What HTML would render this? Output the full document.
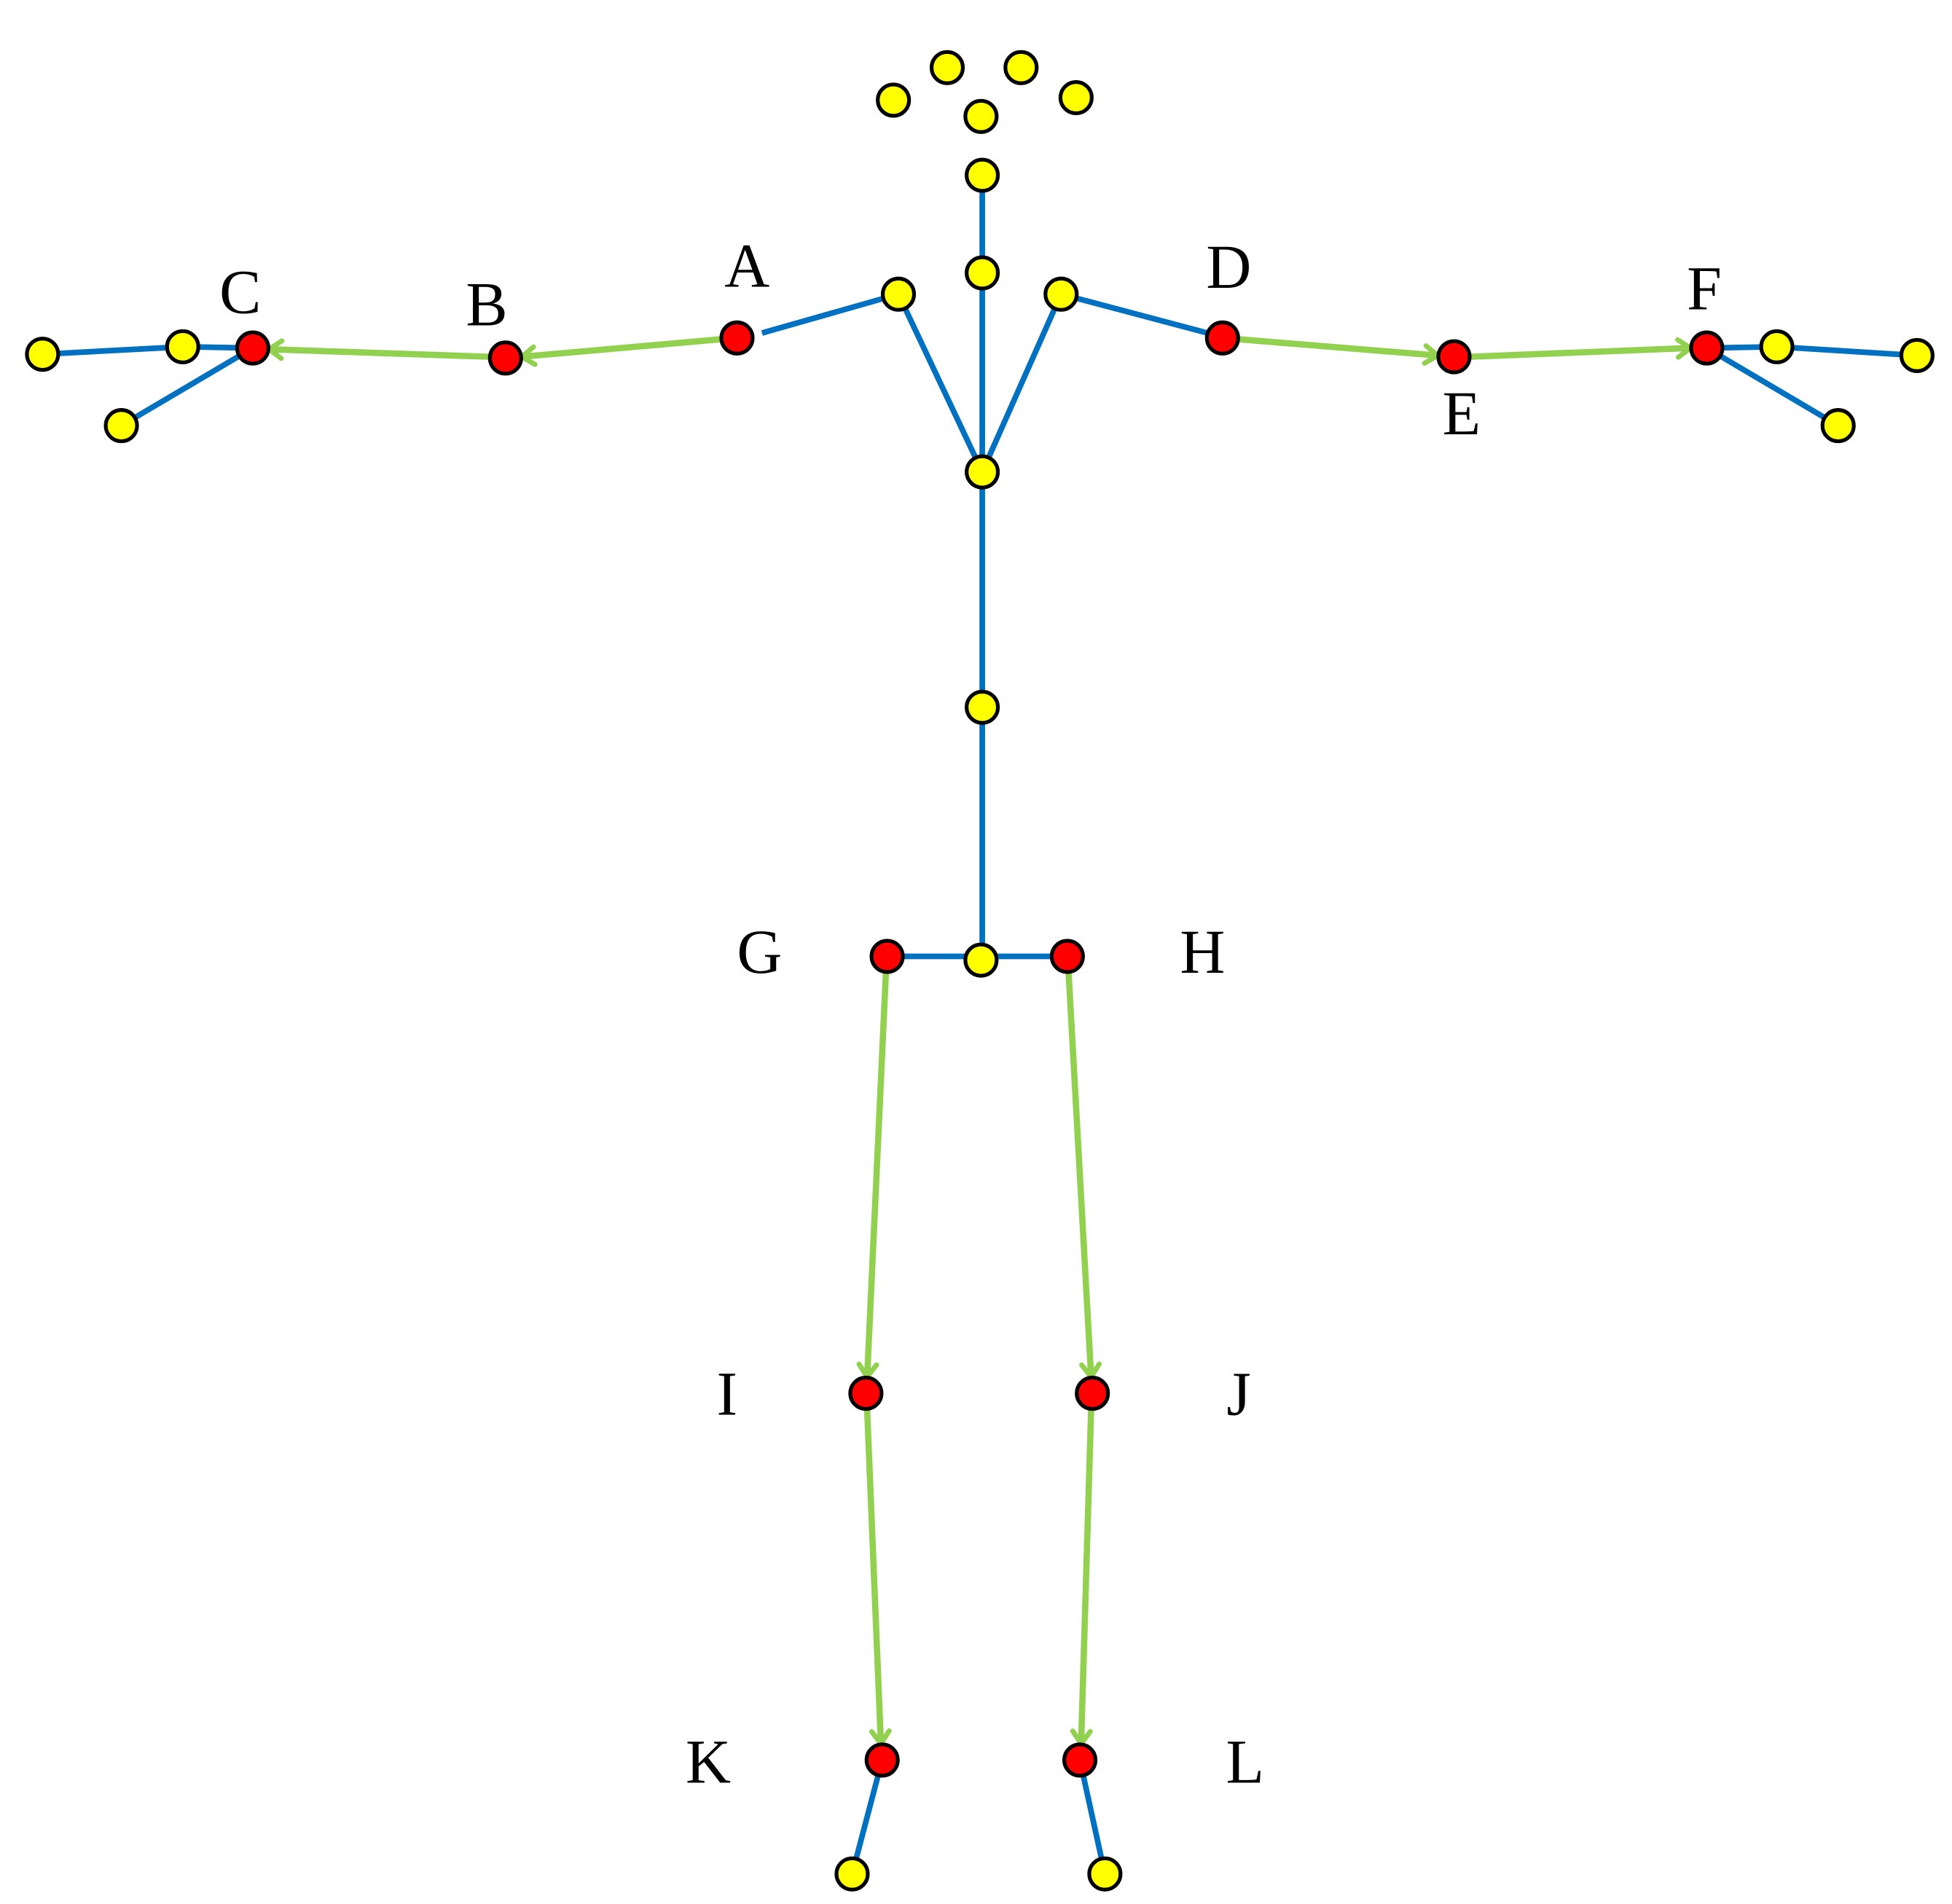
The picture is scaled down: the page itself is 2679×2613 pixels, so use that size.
<!DOCTYPE html>
<html><head><meta charset="utf-8">
<style>
html,body{margin:0;padding:0;background:#fff;}
svg{display:block;}
text{font-family:"Liberation Serif",serif;font-size:50px;fill:#000;}
</style></head>
<body>
<svg width="2679" height="2613" viewBox="0 0 1560 1521" preserveAspectRatio="none" xmlns="http://www.w3.org/2000/svg">
<defs>
<marker id="ar" markerUnits="userSpaceOnUse" markerWidth="30" markerHeight="30" refX="0" refY="0" orient="auto" viewBox="-15 -15 30 30" overflow="visible">
<path d="M-10,-7 L0,0 L-10,7" fill="none" stroke="#92D050" stroke-width="4" stroke-linecap="round" stroke-linejoin="round"/>
</marker>
</defs>
<g stroke="#0070C0" stroke-width="4.5" fill="none" stroke-linecap="butt">
<line x1="785" y1="140" x2="785" y2="767"/>
<line x1="718" y1="235" x2="785" y2="377"/>
<line x1="848" y1="235" x2="785" y2="377"/>
<line x1="609" y1="266" x2="718" y2="235"/>
<line x1="848" y1="235" x2="965" y2="266"/>
<line x1="709" y1="764" x2="853" y2="764"/>
<line x1="202" y1="278" x2="146" y2="277"/>
<line x1="146" y1="277" x2="34" y2="283"/>
<line x1="202" y1="278" x2="97" y2="340"/>
<line x1="1364" y1="278" x2="1420" y2="277"/>
<line x1="1420" y1="277" x2="1532" y2="284"/>
<line x1="1364" y1="278" x2="1469" y2="340"/>
<line x1="705" y1="1406" x2="681" y2="1497"/>
<line x1="863" y1="1406" x2="883" y2="1497"/>
</g>
<g stroke="#92D050" stroke-width="5" fill="none" marker-end="url(#ar)">
<line x1="576" y1="271" x2="417" y2="285"/>
<line x1="391" y1="285" x2="215" y2="279"/>
<line x1="990" y1="271" x2="1149" y2="284"/>
<line x1="1175" y1="285" x2="1351" y2="278"/>
<line x1="708" y1="777" x2="693" y2="1100"/>
<line x1="693" y1="1126" x2="704" y2="1393"/>
<line x1="854" y1="777" x2="872" y2="1100"/>
<line x1="872" y1="1126" x2="864" y2="1393"/>
</g>
<g stroke="#000" stroke-width="3" fill="#FFFF00">
<circle cx="714" cy="80" r="12.5"/>
<circle cx="757" cy="54" r="12.5"/>
<circle cx="816" cy="54" r="12.5"/>
<circle cx="860" cy="78" r="12.5"/>
<circle cx="784" cy="93" r="12.5"/>
<circle cx="785" cy="140" r="12.5"/>
<circle cx="785" cy="218" r="12.5"/>
<circle cx="718" cy="235" r="12.5"/>
<circle cx="848" cy="235" r="12.5"/>
<circle cx="785" cy="377" r="12.5"/>
<circle cx="785" cy="565" r="12.5"/>
<circle cx="784" cy="767" r="12.5"/>
<circle cx="146" cy="277" r="12.5"/>
<circle cx="34" cy="283" r="12.5"/>
<circle cx="97" cy="340" r="12.5"/>
<circle cx="1420" cy="277" r="12.5"/>
<circle cx="1532" cy="284" r="12.5"/>
<circle cx="1469" cy="340" r="12.5"/>
<circle cx="681" cy="1497" r="12.5"/>
<circle cx="883" cy="1497" r="12.5"/>
</g>
<g stroke="#000" stroke-width="3" fill="#FF0000">
<circle cx="589" cy="270" r="12.5"/>
<circle cx="404" cy="286" r="12.5"/>
<circle cx="202" cy="278" r="12.5"/>
<circle cx="977" cy="270" r="12.5"/>
<circle cx="1162" cy="285" r="12.5"/>
<circle cx="1364" cy="278" r="12.5"/>
<circle cx="709" cy="764" r="12.5"/>
<circle cx="853" cy="764" r="12.5"/>
<circle cx="692" cy="1113" r="12.5"/>
<circle cx="873" cy="1113" r="12.5"/>
<circle cx="705" cy="1406" r="12.5"/>
<circle cx="863" cy="1406" r="12.5"/>
</g>
<g text-anchor="middle">
<text x="597" y="229">A</text>
<text x="389" y="260">B</text>
<text x="192" y="250">C</text>
<text x="982" y="230">D</text>
<text x="1168" y="347">E</text>
<text x="1362" y="247">F</text>
<text x="607" y="777">G</text>
<text x="961" y="777">H</text>
<text x="581" y="1130">I</text>
<text x="990" y="1130">J</text>
<text x="566" y="1424">K</text>
<text x="995" y="1424">L</text>
</g>
</svg>
</body></html>
